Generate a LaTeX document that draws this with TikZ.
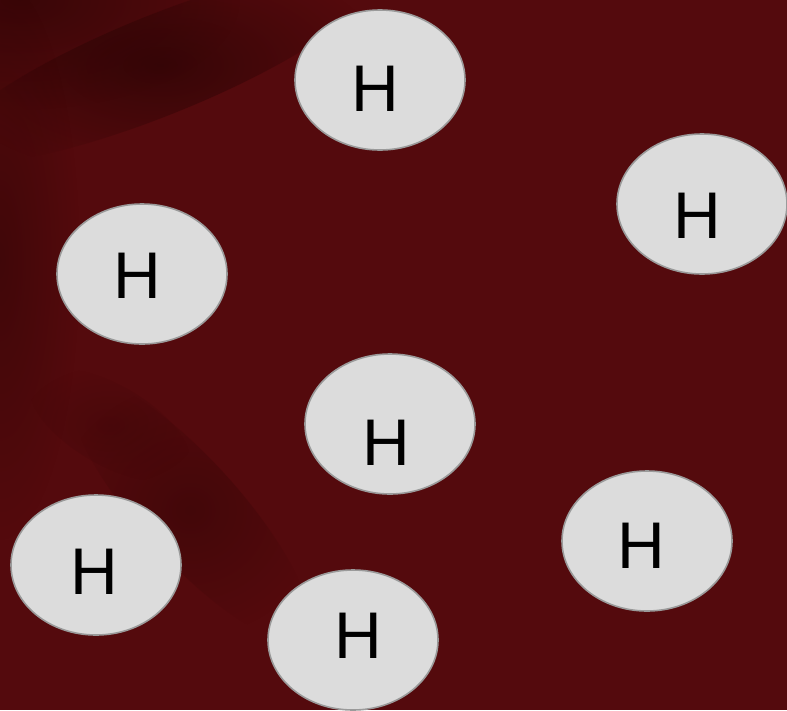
\documentclass[tikz,border=0pt]{standalone}
\usepackage{fontspec}
\setmainfont{Liberation Sans}
\usetikzlibrary{shapes.geometric,fadings}
\definecolor{bgred}{HTML}{540A0D}
\definecolor{bgdark}{HTML}{240303}
\definecolor{blobfill}{HTML}{DCDCDC}
\definecolor{blobline}{HTML}{9A9A9A}
\tikzfading[name=softblob, inner color=transparent!0, outer color=transparent!100]
\begin{document}
\begin{tikzpicture}[x=1pt,y=-1pt,
  blob/.style={ellipse, draw=blobline, line width=1.6pt, fill=blobfill,
    minimum width=170pt, minimum height=140pt, inner sep=0pt},
  hlab/.style={font=\fontsize{66}{66}\selectfont, text=black, inner sep=0pt},
  shadow/.style={fill=bgdark, path fading=softblob, fit fading=true}]
\useasboundingbox (0,0) rectangle (787,710);
\fill[bgred] (0,0) rectangle (787,710);
% darker top-left region and band
\fill[shadow, opacity=0.55] (20,0) ellipse [x radius=220, y radius=110];
\fill[shadow, opacity=0.6, rotate around={22:(160,65)}] (160,65) ellipse [x radius=230, y radius=50];
% left edge
\fill[shadow, opacity=0.4] (0,260) ellipse [x radius=80, y radius=280];
% lower streak
\fill[shadow, opacity=0.35, rotate around={-48:(190,510)}] (190,510) ellipse [x radius=170, y radius=50];
\fill[shadow, opacity=0.2, rotate around={-30:(110,425)}] (110,425) ellipse [x radius=90, y radius=40];
% ellipses
\node[blob] (e1) at (380,80) {};
\node[blob] (e2) at (702,204) {};
\node[blob] (e3) at (142,274) {};
\node[blob] (e4) at (390,424) {};
\node[blob] (e5) at (96,565) {};
\node[blob] (e6) at (647,541) {};
\node[blob] (e7) at (353,640) {};
% labels
\node[hlab] (h1) at (375,89) {H};
\node[hlab] (h2) at (697,216) {H};
\node[hlab] (h3) at (137,276) {H};
\node[hlab] (h4) at (386,443) {H};
\node[hlab] (h5) at (94,572) {H};
\node[hlab] (h6) at (641,546) {H};
\node[hlab] (h7) at (358,636) {H};
\end{tikzpicture}
\end{document}
